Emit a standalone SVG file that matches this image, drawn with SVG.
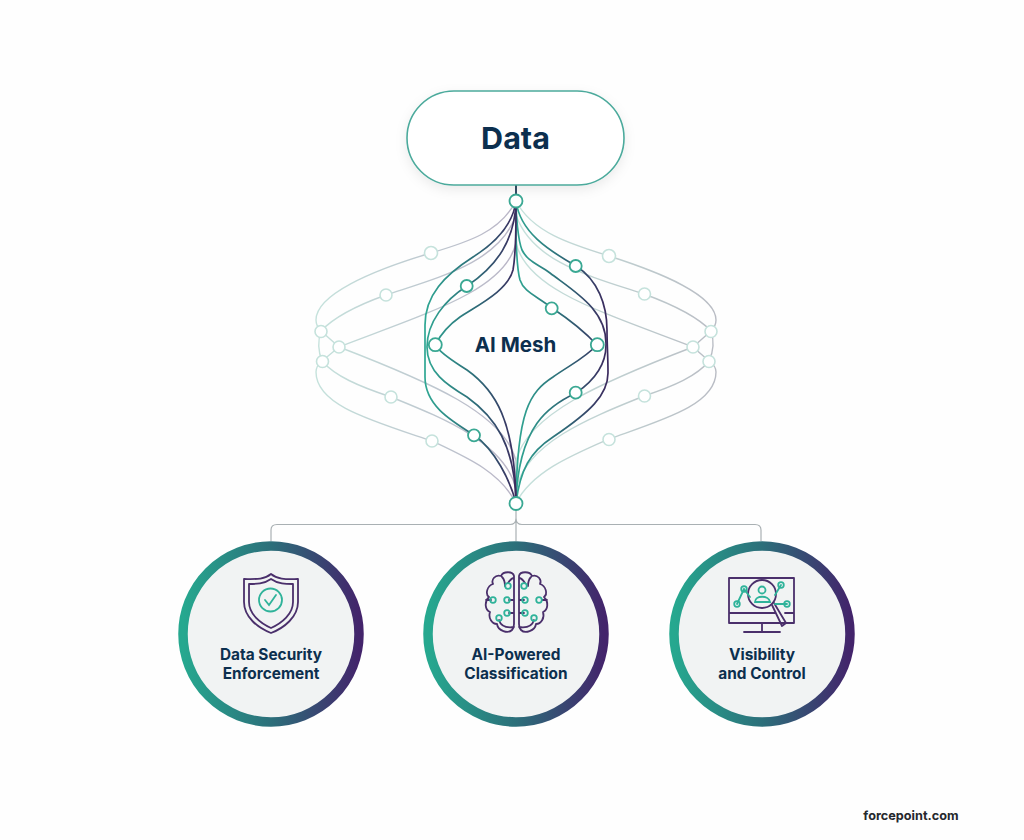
<svg xmlns="http://www.w3.org/2000/svg" width="1024" height="840" viewBox="0 0 1024 840">
<style>
text{font-family:Inter,"Liberation Sans",sans-serif;font-weight:700;fill:#0c2f4e;text-anchor:middle}
.lab{font-size:15.400px}
.c{fill:none;stroke-width:1.7;stroke-linecap:round}
.lt{fill:none;stroke-width:1.4}
.n{fill:#fff;stroke:#3aa893;stroke-width:1.8}
.nl{fill:#fff;stroke:#c5e2dc;stroke-width:1.6}
.ic{fill:none;stroke:#4a2f6b;stroke-width:1.8;stroke-linejoin:round;stroke-linecap:round}
.it{fill:none;stroke:#2fb39a;stroke-width:1.8;stroke-linecap:round}
.link{fill:none;stroke:#a9b0b3;stroke-width:1.2}
.disc{fill:#f1f3f3;stroke-width:9.500}
</style>
<defs>
<linearGradient id="dl" gradientUnits="userSpaceOnUse" x1="425" y1="0" x2="517" y2="0"><stop offset="0" stop-color="#2fa793"/><stop offset=".55" stop-color="#2d6c78"/><stop offset="1" stop-color="#3b2a5e"/></linearGradient>
<linearGradient id="dr" gradientUnits="userSpaceOnUse" x1="516" y1="0" x2="607" y2="0"><stop offset="0" stop-color="#2fa793"/><stop offset=".5" stop-color="#2d6c78"/><stop offset="1" stop-color="#3b2a5e"/></linearGradient>
<linearGradient id="ll" gradientUnits="userSpaceOnUse" x1="316" y1="0" x2="516" y2="0"><stop offset="0" stop-color="#c5e2dc"/><stop offset="1" stop-color="#b9b4c6"/></linearGradient>
<linearGradient id="lr" gradientUnits="userSpaceOnUse" x1="516" y1="0" x2="716" y2="0"><stop offset="0" stop-color="#c5e2dc"/><stop offset="1" stop-color="#b9bcc4"/></linearGradient>
<linearGradient id="ring" x1="0" y1="0" x2="1" y2="0"><stop offset="0" stop-color="#26a88f"/><stop offset=".5" stop-color="#2c6f7a"/><stop offset="1" stop-color="#43246b"/></linearGradient>
<filter id="sh" x="-20%" y="-30%" width="140%" height="170%"><feDropShadow dx="0" dy="4" stdDeviation="6" flood-color="#000" flood-opacity=".08"/></filter>
<path id="hemi" d="M514 576C513 571 503 571 501 576C495 574 491 580 493 584C487 586 485 594 489 597C484 602 485 610 490 612C488 618 492 624 497 624C498 631 508 634 512 630C514 628 514 626 514 624ZM514 600H509M514 613H509M514 627C507 628 501 627 499 620M505 586C505 582 504 579 502 577M508 583C510 580 512 578 514 578M491 600H486"/>
</defs>
<rect width="1024" height="840" fill="#fefefe"/>
<g id="connectors">
<path class="link" d="M516 510V541M271 541V530Q271 524.500 277 524.500H510Q516 524.500 516 518M761 541V530Q761 524.500 755 524.500H522Q516 524.500 516 518"/>
<path stroke="#1f3a55" stroke-width="1.800" d="M516 185V201" fill="none"/>
<g stroke="url(#ll)" class="lt">
<path d="M516 201C500 232 468 242 431 253C370 271 316 295 316 320Q316 326 321 331"/>
<path d="M516 201V215C500 262 440 277 386 295C358 305 335 316 321 331"/>
<path d="M516 201V243C505 290 430 312 339 347"/>
<path d="M321 331Q316 346 322 361M321 331L339 347L322 361"/>
<path d="M516 503C500 472 468 458 432 441C370 420 316 405 316 372Q316 366 322 361"/>
<path d="M516 503V489C505 442 440 417 391 397C358 386 335 376 322 361"/>
<path d="M516 503V461C505 414 430 382 339 347"/>
</g>
<g stroke="url(#lr)" class="lt">
<path d="M516 201C532 232 570 244 609 256C662 273 716 295 716 320Q716 326 711 331"/>
<path d="M516 201V215C532 262 592 277 644 294C674 305 697 316 711 331"/>
<path d="M516 201V243C527 290 602 312 693 347"/>
<path d="M711 331Q716 346 709 361M711 331L693 347L709 361"/>
<path d="M516 503C532 472 570 456 609 439C662 420 716 405 716 372Q716 366 709 361"/>
<path d="M516 503V489C527 442 592 417 644 396C674 386 697 376 709 361"/>
<path d="M516 503V461C527 414 602 382 693 347"/>
</g>
<g stroke="url(#dr)" class="c">
<path d="M516 201C520 232 548 250 576 266C598 280 607 305 607 330C607 345 608 355 608 373C608 395 590 412 553 437C530 452 520 470 516 503"/>
<path d="M516 201C516 215 518 240 522 250C528 262 538 264 550 273C575 292 607 310 606 345C606 365 595 380 576 393C550 405 518 425 516 503"/>
<path d="M516 201C516 225 515 262 520 280C524 292 535 295 552 308C570 320 585 332 597 345C585 358 570 365 553 377C530 392 517 410 516 503"/>
</g>
<g stroke="url(#dl)" class="c">
<path d="M516 201C513 225 495 243 473 257C445 275 425 295 425 325C425 345 425 360 425 377C425 405 450 420 474 435C495 450 510 480 516 503"/>
<path d="M516 201C515 240 497 266 467 286C445 300 427 322 427 347C427 372 447 385 467 397C495 417 515 445 516 503"/>
<path d="M516 201C516 225 516.500 250 513 270C508 290 480 304 460 317C450 324 442 332 435 345C442 355 455 362 467 370C495 390 515 420 516 503"/>
</g>
</g>
<g id="nodes-mesh">
<g class="nl"><circle cx="431" cy="253" r="6.500"/><circle cx="386" cy="295" r="6"/><circle cx="321" cy="331.500" r="6"/><circle cx="339" cy="347" r="6"/><circle cx="322.500" cy="361.500" r="6"/><circle cx="391" cy="397" r="6"/><circle cx="432" cy="441" r="6"/><circle cx="609" cy="256" r="6.500"/><circle cx="644.500" cy="294" r="6"/><circle cx="711" cy="331.500" r="6"/><circle cx="693" cy="347" r="6"/><circle cx="709" cy="361.500" r="6"/><circle cx="644.500" cy="396" r="6"/><circle cx="609" cy="439.500" r="6"/></g>
<g class="n"><circle cx="516" cy="201" r="6.500"/><circle cx="516" cy="503.500" r="6.500"/><circle cx="466.700" cy="286" r="6"/><circle cx="435.300" cy="344.700" r="6.500"/><circle cx="474" cy="435.300" r="6"/><circle cx="575.700" cy="266" r="6"/><circle cx="551.700" cy="308.300" r="6"/><circle cx="597.300" cy="344.700" r="6.500"/><circle cx="575.700" cy="392.700" r="6"/></g>
</g>
<g id="data"><rect x="407" y="91" width="217" height="94" rx="47" fill="#fff" stroke="#4caa9c" stroke-width="1.600" filter="url(#sh)"/><text x="515.500" y="149" font-size="30.500">Data</text></g>
<g id="mesh-label"><text x="515.500" y="352" font-size="20.500">AI Mesh</text></g>
<g id="enforcement">
<circle class="disc" cx="271" cy="634" r="88" stroke="url(#ring)"/>
<path class="ic" d="M271 574C264 580 254 579 244 579V602C244 617 258 628 271 633C284 628 298 617 298 602V579C288 579 278 580 271 574Z"/>
<path class="ic" d="M271 579C264 584 256 584 249 584V602C249 614 260 623 271 628C282 623 293 614 293 602V584C286 584 278 584 271 579Z"/>
<circle class="it" cx="270.500" cy="600" r="11.500"/><path class="it" d="M265 600L269 605L276 595"/>
<text class="lab" x="271" y="660">Data Security</text><text class="lab" x="271" y="679">Enforcement</text>
</g>
<g id="classification">
<circle class="disc" cx="516" cy="634" r="88" stroke="url(#ring)"/>
<use href="#hemi" class="ic"/><use href="#hemi" class="ic" transform="matrix(-1 0 0 1 1033 0)"/>
<g class="it" fill="#f1f3f3"><circle cx="508" cy="586" r="2.800"/><circle cx="493" cy="600" r="2.800"/><circle cx="507" cy="600" r="2.800"/><circle cx="507" cy="613" r="2.800"/><circle cx="499" cy="618" r="2.800"/><circle cx="524" cy="586" r="2.800"/><circle cx="539" cy="600" r="2.800"/><circle cx="525" cy="600" r="2.800"/><circle cx="525" cy="613" r="2.800"/><circle cx="534" cy="618" r="2.800"/></g>
<text class="lab" x="516" y="660">AI-Powered</text><text class="lab" x="516" y="679">Classification</text>
</g>
<g id="visibility">
<circle class="disc" cx="762" cy="634" r="88" stroke="url(#ring)"/>
<path class="ic" d="M729 578H794V623H729ZM729 613H775M785 613H794M762 623V632M744 632H780"/>
<circle cx="762" cy="594" r="14" fill="#f1f3f3" class="ic"/><path class="ic" d="M772 605L782 626L786 623L774 603"/>
<path class="it" d="M737 604L744 589L750 597M781 585L775 595M775 604H787"/>
<g class="it"><circle cx="737" cy="604" r="2.800"/><circle cx="744" cy="589" r="2.800"/><circle cx="781" cy="585" r="2.800"/><circle cx="787" cy="604" r="2.800"/><circle cx="762" cy="590" r="3.500"/><path d="M755 602C755 595 769 595 770 602Z"/></g>
<text class="lab" x="762" y="660">Visibility</text><text class="lab" x="762" y="679">and Control</text>
</g>
<text x="911" y="820" font-size="12.700" style="fill:#25282d">forcepoint.com</text>
</svg>
